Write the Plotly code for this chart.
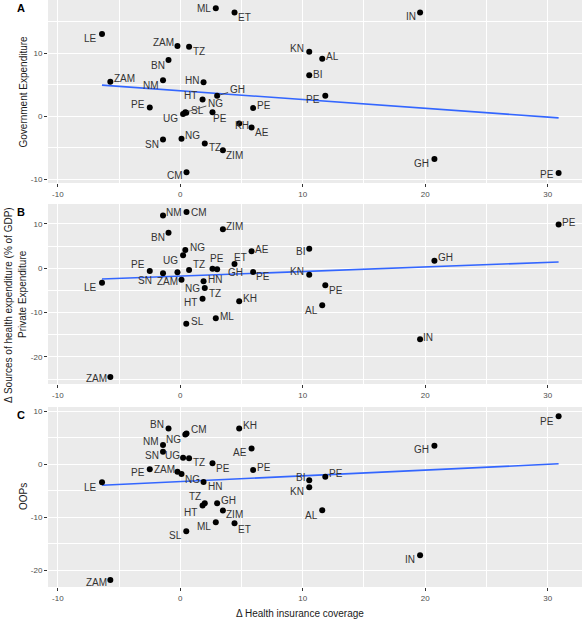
import numpy as np
import plotly.graph_objects as go

# ---------------- data ----------------
countries = ["LE", "ZAM", "PE", "NM", "SN", "BN", "ZAM", "NG", "UG", "NG", "SL",
             "CM", "TZ", "HT", "HN", "TZ", "PE", "ML", "GH", "ZIM", "ET", "KH",
             "AE", "PE", "KN", "BI", "AL", "PE", "IN", "GH", "PE"]
coverage_change = [-6.39, -5.71, -2.49, -1.41, -1.41, -0.96, -0.23, 0.10, 0.23, 0.41, 0.49,
                   0.51, 0.72, 1.82, 1.90, 2.00, 2.63, 2.90, 3.01, 3.48, 4.43, 4.81,
                   5.82, 5.95, 10.53, 10.53, 11.59, 11.84, 19.58, 20.75, 30.89]
gov_exp = [13.0, 5.45, 1.38, 5.67, -3.70, 8.89, 11.1, -3.6, 0.32, 0.6, 0.53,
           -8.9, 11.0, 2.65, 5.35, -4.33, 0.63, 17.1, 3.22, -5.4, 16.4, -1.16,
           -1.8, 1.27, 10.2, 6.46, 9.1, 3.22, 16.4, -6.78, -9.0]
priv_exp = [-3.24, -24.5, -0.61, 11.9, -1.13, 8.0, -0.9, -2.6, 2.93, 4.12, -12.5,
            12.68, -0.38, -6.85, -2.93, -4.44, -0.09, -11.26, -0.22, 8.78, 0.97, -7.43,
            3.83, -0.83, -1.44, 4.41, -8.33, -3.83, -16.0, 1.71, 9.9]
oop_exp = [-3.38, -21.8, -0.94, 3.62, 2.36, 6.75, -1.38, -1.82, 1.24, 5.63, -12.6,
           5.82, 1.13, -7.76, -3.32, -7.32, 0.19, -10.9, -7.32, -8.7, -11.1, 6.75,
           3.0, -1.07, -4.32, -3.0, -8.63, -2.32, -17.1, 3.49, 9.06]

panel_letters = ["A", "B", "C"]
panel_titles = ["Government Expenditure", "Private Expenditure", "OOPs"]
x_ticks = [-10, 0, 10, 20, 30]
y_ticks = [[-10, 0, 10], [-20, -10, 0, 10], [-20, -10, 0, 10]]

# ---------------- style (label offsets in px: dx right, dy down) ----------------
off_A = [(-12, 4), (14, -3), (-12, -3), (-12, 5), (-11, 5), (-11, 5), (-14, -4), (11, -3),
         (-13, 4), (30, -9), (11, -2), (-12, 3), (10, 5), (-12, -4), (-12, -2), (10, 4),
         (8, 6), (-12, 0), (20, -6), (12, 5), (10, 5), (3, 2), (10, 5), (11, -3),
         (-12, -3), (8, -1), (10, -2), (-12, 4), (-9, 4), (-13, 5), (-12, 2)]
off_B = [(-12, 5), (-14, 2), (-12, -6), (11, -3), (-18, 7), (-11, 5), (-10, 9), (11, 9),
         (-13, 5), (12, -3), (11, -2), (12, 0), (10, -5), (-12, 4), (11, -2), (10, 6),
         (5, -10), (11, -2), (18, 3), (12, -3), (6, -6), (11, -3), (10, -2), (10, 5),
         (-12, -3), (-9, 3), (-11, 5), (11, 5), (8, -2), (11, -3), (10, -2)]
off_C = [(-12, 5), (-14, 2), (-12, 3), (-12, -4), (-11, 4), (-12, -4), (-13, -2), (11, 5),
         (-11, -2), (-12, 5), (-11, 4), (12, -4), (10, 4), (-12, 7), (11, 5), (-10, -7),
         (11, 5), (-12, 4), (11, -3), (12, 4), (10, 6), (11, -3), (-12, 4), (11, -3),
         (-12, 4), (-9, -3), (-11, 5), (11, -3), (-10, 4), (-13, 4), (-12, 5)]
segments = {0: [9, 18]}  # labels with leader lines (panel index -> point indices)

W, H = 582, 621
ML_, MR_, MT_, MB_ = 48, 0, 0, 34
plot_h = H - MT_ - MB_
# panel pixel extents (top, bottom)
panel_px = [(0, 183), (204, 384), (407, 587)]
y_ranges = [[-10.6, 18.4], [-26.1, 14.5], [-23.1, 10.8]]
y_minor = [[-5, 5, 15], [-25, -15, -5, 5], [-15, -5, 5]]
x_range = [-10.8, 32.8]
FONT = "Liberation Sans, Arial, sans-serif"

fig = go.Figure()
series = [gov_exp, priv_exp, oop_exp]
offsets = [off_A, off_B, off_C]
xs = np.array(coverage_change)

for i in range(3):
    xa = "x" if i == 0 else f"x{i+1}"
    ya = "y" if i == 0 else f"y{i+1}"
    ys = np.array(series[i])
    # regression line
    slope, icpt = np.polyfit(xs, ys, 1)
    lx = np.array([xs.min(), xs.max()])
    fig.add_trace(go.Scatter(x=lx, y=slope * lx + icpt, mode="lines",
                             line=dict(color="#3366FF", width=1.6),
                             xaxis=xa, yaxis=ya, hoverinfo="skip", showlegend=False))
    fig.add_trace(go.Scatter(x=xs, y=ys, mode="markers",
                             marker=dict(color="black", size=6),
                             xaxis=xa, yaxis=ya, showlegend=False))
    for j, (c, xv, yv) in enumerate(zip(countries, xs, ys)):
        dx, dy = offsets[i][j]
        if j in segments.get(i, []):
            fig.add_annotation(x=xv, y=yv, xref=xa, yref=ya, text=c, showarrow=True,
                               ax=dx, ay=dy, arrowhead=0, arrowwidth=0.8,
                               arrowcolor="#333333", standoff=2,
                               font=dict(family=FONT, size=10, color="#333333"))
        else:
            fig.add_annotation(x=xv, y=yv, xref=xa, yref=ya, text=c, showarrow=False,
                               xshift=dx, yshift=-dy, xanchor="center", yanchor="middle",
                               font=dict(family=FONT, size=10, color="#333333"))

    top, bot = panel_px[i]
    dom = [(H - MB_ - bot) / plot_h, (H - MB_ - top) / plot_h]
    axis_common = dict(showline=False, zeroline=False, showgrid=True, gridcolor="white",
                       gridwidth=1.1, ticks="outside", ticklen=3, tickcolor="#333333",
                       tickwidth=1, tickfont=dict(family=FONT, size=8, color="#4D4D4D"))
    xkey = "xaxis" if i == 0 else f"xaxis{i+1}"
    ykey = "yaxis" if i == 0 else f"yaxis{i+1}"
    fig.update_layout(**{
        xkey: dict(domain=[0, 1], anchor=ya, range=x_range, tickmode="array",
                   tickvals=x_ticks, ticktext=[str(t) for t in x_ticks],
                   minor=dict(tickmode="array", tickvals=[-5, 5, 15, 25], showgrid=True,
                              gridcolor="white", gridwidth=0.5, ticks=""),
                   **axis_common),
        ykey: dict(domain=dom, anchor=xa, range=y_ranges[i], tickmode="array",
                   tickvals=y_ticks[i], ticktext=[str(t) for t in y_ticks[i]],
                   minor=dict(tickmode="array", tickvals=y_minor[i], showgrid=True,
                              gridcolor="white", gridwidth=0.5, ticks=""),
                   **axis_common),
    })
    # panel y title
    ymid = (H - MB_ - (top + bot) / 2) / plot_h
    fig.add_annotation(xref="paper", yref="paper", x=(23 - ML_) / (W - ML_ - MR_), y=ymid,
                       text=panel_titles[i], textangle=-90, showarrow=False,
                       xanchor="center", yanchor="middle",
                       font=dict(family=FONT, size=10, color="#1a1a1a"))
    # panel letter
    fig.add_annotation(xref="paper", yref="paper", x=(21 - ML_) / (W - ML_ - MR_),
                       y=(H - MB_ - (top + 8)) / plot_h,
                       text=f"<b>{panel_letters[i]}</b>", showarrow=False,
                       xanchor="center", yanchor="middle",
                       font=dict(family=FONT, size=11, color="black"))

# outer titles
fig.add_annotation(xref="paper", yref="paper", x=(8 - ML_) / (W - ML_ - MR_),
                   y=(H - MB_ - 305) / plot_h,
                   text="Δ Sources of health expenditure (% of GDP)", textangle=-90,
                   showarrow=False, xanchor="center", yanchor="middle",
                   font=dict(family=FONT, size=10, color="#1a1a1a"))
fig.add_annotation(xref="paper", yref="paper", x=(300 - ML_) / (W - ML_ - MR_),
                   y=-(613 - (H - MB_)) / plot_h,
                   text="Δ Health insurance coverage", showarrow=False,
                   xanchor="center", yanchor="middle",
                   font=dict(family=FONT, size=10, color="#1a1a1a"))

fig.update_layout(width=W, height=H, margin=dict(l=ML_, r=MR_, t=MT_, b=MB_),
                  plot_bgcolor="#EBEBEB", paper_bgcolor="white", showlegend=False,
                  font=dict(family=FONT))
fig.write_html("out.html", config={"displayModeBar": False},
               post_script="document.body.style.margin='0px';document.body.style.overflow='hidden';")
